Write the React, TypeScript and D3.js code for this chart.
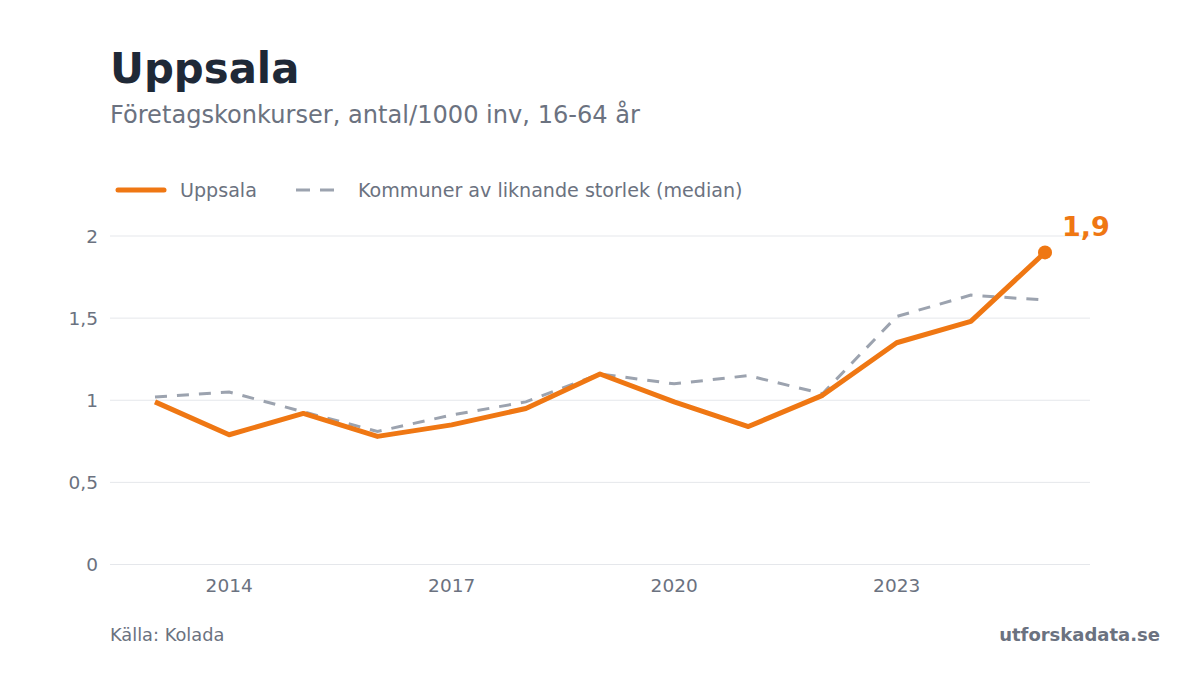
import React, { useEffect } from "react";
import * as d3 from "d3";

const years = [2013, 2014, 2015, 2016, 2017, 2018, 2019, 2020, 2021, 2022, 2023, 2024, 2025];
const uppsala = [0.99, 0.79, 0.92, 0.78, 0.85, 0.95, 1.16, 0.99, 0.84, 1.03, 1.35, 1.48, 1.9];
const median = [1.02, 1.05, 0.93, 0.81, 0.91, 0.99, 1.16, 1.1, 1.15, 1.04, 1.51, 1.64, 1.61];
const yTicks = [0, 0.5, 1, 1.5, 2];
const xTicks = [2014, 2017, 2020, 2023];
const fmt = (v: number) => String(v).replace(".", ",");

const W = 1200;
const H = 675;
const FONT = "DejaVu Sans, sans-serif";
const ORANGE = "#ef7713";
const GRAY = "#9ca3af";
const TEXT = "#6b7280";

export default function App() {
  useEffect(() => {
    document.body.style.margin = "0";
  }, []);
  const x = d3.scaleLinear().domain([2013, 2025]).range([155, 1045]);
  const y = d3.scaleLinear().domain([0, 2]).range([564.5, 236]);
  const line = d3
    .line<number>()
    .x((_, i) => x(years[i]))
    .y((d) => y(d));
  const last = uppsala.length - 1;
  return (
    <svg width={W} height={H} style={{ display: "block", background: "#fff" }} fontFamily={FONT}>
      <text x={110} y={83} fontSize={41.8} fontWeight="bold" fill="#1f2937">Uppsala</text>
      <text x={110} y={123} fontSize={24.1} fill={TEXT}>Företagskonkurser, antal/1000 inv, 16-64 år</text>

      <line x1={118} x2={164} y1={190} y2={190} stroke={ORANGE} strokeWidth={5} strokeLinecap="round" />
      <text x={180} y={197} fontSize={19.1} fill={TEXT}>Uppsala</text>
      <line x1={296} x2={342} y1={190} y2={190} stroke={GRAY} strokeWidth={3} strokeDasharray="14 10" />
      <text x={358} y={197} fontSize={19.1} fill={TEXT}>Kommuner av liknande storlek (median)</text>

      {yTicks.map((t) => (
        <g key={t}>
          <line x1={110} x2={1090} y1={y(t)} y2={y(t)} stroke="#e5e7eb" strokeWidth={1} />
          <text x={98} y={y(t) + 6.5} textAnchor="end" fontSize={18.5} fill={TEXT}>{fmt(t)}</text>
        </g>
      ))}
      {xTicks.map((t) => (
        <text key={t} x={x(t)} y={591.5} textAnchor="middle" fontSize={18.5} fill={TEXT}>{t}</text>
      ))}

      <path d={line(median) || ""} fill="none" stroke={GRAY} strokeWidth={3} strokeDasharray="12 10" />
      <path d={line(uppsala) || ""} fill="none" stroke={ORANGE} strokeWidth={5} strokeLinejoin="round" />
      <circle cx={x(years[last])} cy={y(uppsala[last])} r={7} fill={ORANGE} />
      <text x={x(years[last]) + 17} y={y(uppsala[last]) - 16} fontSize={27} fontWeight="bold" fill={ORANGE}>
        {fmt(uppsala[last])}
      </text>

      <text x={110} y={640.5} fontSize={17.8} fill={TEXT}>Källa: Kolada</text>
      <text x={1160} y={640.5} textAnchor="end" fontSize={18} fontWeight="bold" fill={TEXT}>utforskadata.se</text>
    </svg>
  );
}
